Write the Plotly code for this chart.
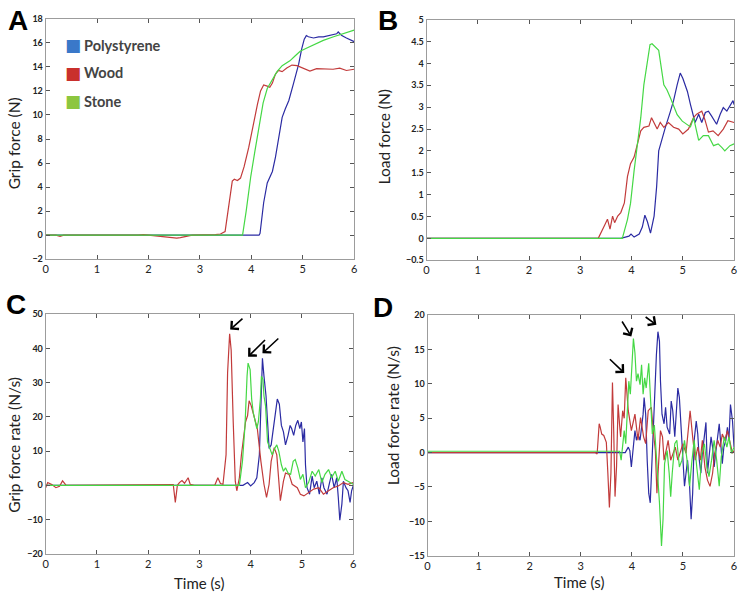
import plotly.graph_objects as go

# ─── DATA ────────────────────────────────────────────────────────────────────
# A — grip force (N)
poly_t_A = [0, 4.15, 4.17, 4.24, 4.31, 4.41, 4.47, 4.53, 4.60, 4.66, 4.73, 4.82, 4.92, 4.98, 5.03,
            5.07, 5.11, 5.21, 5.31, 5.40, 5.53, 5.66, 5.69, 5.76, 5.85, 6.0]
poly_A = [0, 0, 0.15, 2.7, 4.35, 5.3, 6.5, 8.2, 9.8, 10.5, 11.2, 12.6, 14.2, 15.5, 16.3,
          16.6, 16.5, 16.4, 16.5, 16.5, 16.6, 16.75, 16.9, 16.6, 16.4, 16.1]
wood_t_A = [0, 0.2, 0.28, 0.35, 1.8, 1.9, 2.0, 2.55, 2.62, 2.75, 2.85, 3.3, 3.4, 3.49, 3.57,
            3.63, 3.67, 3.73, 3.79, 3.86, 3.95, 4.05, 4.12, 4.18, 4.24, 4.31, 4.36, 4.41, 4.47,
            4.53, 4.60, 4.69, 4.79, 4.89, 5.02, 5.14, 5.27, 5.47, 5.59, 5.72, 5.85, 6.0]
wood_A = [0, 0, -0.1, 0, 0, 0.05, 0, -0.25, -0.2, -0.1, 0, 0.05, 0.1, 0.3, 2.5,
          4.5, 4.65, 4.55, 4.75, 5.7, 7.3, 9.5, 10.9, 12.0, 12.5, 12.4, 12.3, 12.65, 13.4,
          13.7, 13.6, 13.9, 14.15, 14.1, 13.9, 13.65, 13.85, 13.85, 13.8, 13.9, 13.7, 13.8]
stone_t_A = [0, 3.83, 3.9, 3.99, 4.07, 4.15, 4.23, 4.31, 4.4, 4.5, 4.6, 4.75, 4.85, 4.95, 5.05,
             5.2, 5.4, 5.6, 5.75, 5.9, 6.0]
stone_A = [0, 0, 2.0, 4.9, 7.0, 9.0, 11.0, 12.2, 12.9, 13.6, 14.1, 14.5, 14.9, 15.3, 15.5,
           15.8, 16.2, 16.5, 16.7, 16.95, 17.05]

# B — load force (N)
poly_t_B = [0, 3.79, 3.95, 3.99, 4.05, 4.15, 4.21, 4.26, 4.31, 4.37, 4.44, 4.49, 4.53, 4.60, 4.66,
            4.76, 4.82, 4.89, 4.95, 5.0, 5.05, 5.09, 5.15, 5.21, 5.24, 5.31, 5.37, 5.44, 5.50,
            5.56, 5.66, 5.73, 5.79, 5.86, 5.92, 5.98, 6.0]
poly_B = [0, 0, 0.05, 0.1, 0.03, 0.1, 0.26, 0.53, 0.38, 0.12, 0.51, 1.19, 2.0, 2.31, 2.54,
          2.91, 3.15, 3.51, 3.78, 3.66, 3.47, 3.36, 3.06, 2.76, 2.65, 2.84, 2.65, 2.88, 2.91,
          2.8, 2.61, 2.84, 2.99, 2.91, 3.02, 3.15, 3.06]
wood_t_B = [0, 3.35, 3.47, 3.53, 3.58, 3.63, 3.67, 3.73, 3.79, 3.86, 3.92, 3.98, 4.05, 4.11, 4.18,
            4.24, 4.34, 4.39, 4.43, 4.50, 4.56, 4.63, 4.72, 4.82, 4.92, 5.0, 5.11, 5.21, 5.27,
            5.37, 5.43, 5.50, 5.59, 5.69, 5.79, 5.88, 6.0]
wood_B = [0, 0, 0.29, 0.44, 0.21, 0.51, 0.36, 0.51, 0.59, 0.81, 1.41, 1.71, 1.86, 2.16, 2.46,
          2.54, 2.57, 2.76, 2.65, 2.5, 2.65, 2.54, 2.65, 2.54, 2.5, 2.39, 2.5, 2.76, 2.84,
          2.91, 2.72, 2.43, 2.46, 2.35, 2.5, 2.69, 2.65]
stone_t_B = [0, 3.82, 3.92, 3.98, 4.05, 4.11, 4.18, 4.24, 4.31, 4.36, 4.40, 4.53, 4.63, 4.69, 4.76,
             4.81, 4.89, 4.99, 5.08, 5.15, 5.21, 5.31, 5.40, 5.50, 5.60, 5.69, 5.76, 5.82, 5.92, 6.0]
stone_B = [0, 0, 0.43, 0.8, 1.55, 2.08, 2.76, 3.51, 4.11, 4.43, 4.45, 4.3, 3.51, 3.40, 3.21,
           3.06, 2.83, 2.68, 2.61, 2.55, 2.76, 2.24, 2.35, 2.35, 2.12, 2.16, 2.08, 2.0, 2.12, 2.16]

# C — grip force rate (N/s)
poly_t_C = [0, 3.85, 3.94, 4.0, 4.07, 4.12, 4.17, 4.20, 4.23, 4.26, 4.30, 4.33, 4.36, 4.40, 4.44,
            4.49, 4.52, 4.56, 4.60, 4.64, 4.68, 4.73, 4.77, 4.80, 4.84, 4.88, 4.92, 4.96, 4.99,
            5.02, 5.05, 5.07, 5.10, 5.15, 5.20, 5.24, 5.29, 5.34, 5.39, 5.43, 5.49, 5.54, 5.58,
            5.63, 5.68, 5.71, 5.74, 5.78, 5.81, 5.86, 5.90, 5.94, 5.97, 6.0]
poly_C = [0, 0, 0.8, -0.2, 0.8, 2.2, 8.9, 20.4, 37.1, 31.9, 26.1, 18.5, 10.8, 11.8, 16.6,
          23.3, 25.2, 23.7, 17.5, 15.6, 11.8, 14.6, 17.5, 16.6, 14.6, 17.5, 19.0, 16.6, 18.5,
          12.7, 16.6, 6.0, -0.7, -2.6, 2.7, -0.7, 1.2, -2.6, 2.2, -0.7, -2.6, 0.8, 3.2,
          -0.7, 2.2, -3.5, -10.2, -5.5, 1.2, -0.7, -1.6, -5.0, -1.6, -0.2]
wood_t_C = [0, 0.04, 0.12, 0.2, 0.27, 0.33, 0.4, 2.45, 2.49, 2.53, 2.57, 2.61, 2.66, 2.71, 2.78,
            2.82, 2.9, 3.3, 3.36, 3.41, 3.46, 3.52, 3.55, 3.59, 3.62, 3.66, 3.70, 3.73, 3.78,
            3.82, 3.86, 3.90, 3.94, 3.97, 4.01, 4.05, 4.09, 4.13, 4.20, 4.26, 4.31, 4.36, 4.40,
            4.46, 4.51, 4.55, 4.58, 4.64, 4.68, 4.75, 4.81, 4.91, 4.97, 5.04, 5.13, 5.23, 5.33,
            5.42, 5.52, 5.61, 5.71, 5.81, 5.90, 6.0]
wood_C = [-0.7, 0.8, 0.2, -0.7, -0.3, 1.3, 0, 0, 0.2, -5.0, 0, 0.8, 1.4, 0.6, 2.2,
          0.3, 0, 0, 2.2, 0.5, 0.3, 8.9, 32.8, 44.3, 39.5, 18.5, 1.2, -1.6, 2.2,
          8.9, 14.6, 18.5, 20.4, 24.7, 23.3, 21.3, 19.0, 16.6, 7.0, 0.3, -3.5, 0.3, 7.0,
          11.0, 8.9, 0.3, -4.5, 1.2, 3.6, 3.2, 0.3, -0.7, -2.6, -3.1, -2.1, -1.1, -0.7,
          -2.6, -1.6, -0.7, -0.2, 0.8, 0.3, 0.8]
stone_t_C = [0, 3.78, 3.84, 3.89, 3.93, 3.95, 3.99, 4.02, 4.05, 4.08, 4.12, 4.15, 4.19, 4.21, 4.24,
             4.26, 4.29, 4.33, 4.38, 4.42, 4.47, 4.51, 4.55, 4.60, 4.64, 4.68, 4.73, 4.78, 4.83,
             4.87, 4.92, 4.97, 5.02, 5.07, 5.13, 5.20, 5.26, 5.33, 5.39, 5.45, 5.52, 5.58, 5.65,
             5.71, 5.78, 5.84, 5.90, 6.0]
stone_C = [0, 0, 7.0, 17.5, 31.9, 35.7, 33.8, 25.2, 21.3, 19.0, 16.6, 18.5, 25.2, 31.9, 30.9,
           26.1, 23.3, 12.7, 10.8, 8.9, 10.8, 11.8, 9.9, 6.0, 4.1, 5.1, 3.6, 3.2, 7.0,
           7.5, 5.1, 1.7, 3.2, -0.7, 0.8, 4.1, 2.7, 4.6, 0.8, 3.2, 4.6, 2.2, 4.1,
           1.2, 4.1, 1.7, 1.2, 0.3]

# D — load force rate (N/s)
poly_t_D = [0, 3.87, 3.93, 3.96, 3.99, 4.03, 4.06, 4.09, 4.12, 4.16, 4.19, 4.22, 4.24, 4.27, 4.30,
            4.33, 4.36, 4.38, 4.42, 4.45, 4.48, 4.51, 4.54, 4.56, 4.59, 4.63, 4.66, 4.69, 4.74,
            4.77, 4.80, 4.84, 4.87, 4.90, 4.93, 4.96, 5.0, 5.03, 5.06, 5.09, 5.13, 5.16, 5.19,
            5.22, 5.26, 5.29, 5.32, 5.35, 5.38, 5.42, 5.45, 5.48, 5.51, 5.55, 5.58, 5.61, 5.64,
            5.68, 5.71, 5.74, 5.77, 5.80, 5.84, 5.87, 5.90, 5.93, 5.97, 6.0]
poly_D = [0, 0, 0.8, 0.3, -2.1, 1.3, 3.2, 1.8, 2.7, 1.8, 3.7, 5.6, 8.0, 5.6, -1.1,
          -5.9, -7.3, -3.5, 3.7, 8.0, 14.2, 17.6, 16.2, 10.4, 5.6, 4.2, 6.6, 3.7, 2.7,
          7.5, 6.1, 2.3, 6.1, 9.4, 8.0, 4.2, -1.1, -4.9, -3.0, -1.1, -4.9, -9.7, -5.9,
          1.8, 4.6, 2.7, -1.1, -3.0, -0.1, 2.3, 4.4, -3.0, -1.1, 2.3, 0.8, -2.1, -0.1,
          2.3, 4.2, 1.3, -1.6, 0.8, 1.8, 3.7, 1.8, 7.0, 4.6, 0.8]
wood_t_D = [0, 3.28, 3.32, 3.36, 3.38, 3.41, 3.45, 3.50, 3.53, 3.56, 3.59, 3.62, 3.645, 3.67, 3.70,
            3.73, 3.76, 3.78, 3.82, 3.85, 3.88, 3.91, 3.93, 3.99, 4.06, 4.12, 4.17, 4.23, 4.27,
            4.32, 4.38, 4.42, 4.46, 4.49, 4.53, 4.56, 4.60, 4.63, 4.67, 4.71, 4.76, 4.80, 4.85,
            4.90, 4.94, 5.0, 5.06, 5.11, 5.14, 5.19, 5.24, 5.29, 5.34, 5.38, 5.43, 5.48, 5.53,
            5.58, 5.62, 5.68, 5.73, 5.77, 5.82, 5.87, 5.92, 5.97, 6.0]
wood_D = [0, 0, -0.2, 4.2, 3.7, 2.7, 2.5, 1.5, -3.0, -8.0, -3.0, 10.2, 3.0, -6.4, -2.0,
          7.0, 4.0, 2.3, 6.1, 5.0, 10.9, 8.5, 6.1, 3.2, 5.6, 1.8, 5.1, 2.3, 1.3,
          6.1, 6.6, 3.0, 0.3, -5.9, 0.0, 3.2, 2.3, -1.1, 0.3, 1.8, -1.1, -0.1, 0.8,
          -1.1, -0.1, 1.3, -0.1, 3.7, 6.1, 2.3, -1.1, 0.8, -1.1, 1.8, -2.1, -4.0, -4.9,
          -3.0, -0.1, 1.8, 0.8, 2.7, 1.8, 3.2, 1.3, -0.1, 0.3]
stone_t_D = [0, 3.76, 3.79, 3.81, 3.85, 3.88, 3.91, 3.94, 3.97, 4.0, 4.03, 4.06, 4.09, 4.12, 4.16,
             4.19, 4.22, 4.25, 4.28, 4.33, 4.36, 4.40, 4.44, 4.48, 4.51, 4.54, 4.58, 4.61, 4.64,
             4.69, 4.73, 4.76, 4.79, 4.84, 4.88, 4.93, 4.98, 5.03, 5.08, 5.13, 5.17, 5.22, 5.27,
             5.32, 5.37, 5.42, 5.47, 5.51, 5.56, 5.61, 5.66, 5.71, 5.75, 5.81, 5.86, 5.90, 5.95, 6.0]
stone_D = [0.2, 0.2, -1.1, 0.8, 3.2, 1.3, 5.6, 10.4, 8.5, 12.0, 16.6, 14.5, 10.4, 11.5, 9.9,
           12.8, 8.5, 10.9, 9.4, 13.0, 7.5, 2.7, 4.0, -0.5, -3.0, -7.3, -13.6, -9.7, -1.6,
           0.3, -3.0, -6.4, -3.0, 1.3, 1.8, -2.1, -1.1, 1.8, -1.1, -4.9, -1.6, 1.8, -2.1,
           -5.4, -0.1, 1.3, -2.1, -3.5, -1.1, 1.8, -1.1, -4.9, -0.6, 2.3, 0.8, 2.3, -0.1, 0.8]

# arrows marking the peaks: (head_t, head_v, tail_t, tail_v)
arrows_C = [(3.60, 45.5, 3.87, 49.1), (3.95, 37.6, 4.31, 42.9), (4.23, 38.6, 4.57, 43.3)]
arrows_D = [(3.85, 11.6, 3.54, 13.8), (3.99, 16.9, 3.79, 19.3), (4.48, 18.6, 4.24, 19.9)]

materials = ["Polystyrene", "Wood", "Stone"]
LINE = {"Polystyrene": "#2B2BA3", "Wood": "#C23B3B", "Stone": "#45D845"}
SWATCH = {"Polystyrene": "#3A78C9", "Wood": "#C9302C", "Stone": "#8CC63F"}

panels = [
    ("A", "x", "y", [(poly_t_A, poly_A), (wood_t_A, wood_A), (stone_t_A, stone_A)]),
    ("B", "x2", "y2", [(poly_t_B, poly_B), (wood_t_B, wood_B), (stone_t_B, stone_B)]),
    ("C", "x3", "y3", [(poly_t_C, poly_C), (wood_t_C, wood_C), (stone_t_C, stone_C)]),
    ("D", "x4", "y4", [(poly_t_D, poly_D), (wood_t_D, wood_D), (stone_t_D, stone_D)]),
]

# ─── FIGURE ──────────────────────────────────────────────────────────────────
W, H = 742, 598
FONT = "Lato, Open Sans, sans-serif"

fig = go.Figure()
for letter, xa, ya, series in panels:
    for name, (t, v) in zip(materials, series):
        fig.add_trace(go.Scatter(
            x=t, y=v, mode="lines", name=name, xaxis=xa, yaxis=ya,
            line=dict(color=LINE[name], width=1.2), showlegend=False,
        ))


def px_x(p):
    return p / W


def px_y(p):
    return 1 - p / H


_AXIS = dict(
    showline=True, linecolor="#9C9C9C", linewidth=1, mirror="ticks",
    ticks="inside", ticklen=4, tickcolor="#555555", tickwidth=1,
    showgrid=False, zeroline=False,
)
_XAX = dict(**_AXIS, range=[0, 6], dtick=1,
            tickfont=dict(family=FONT, size=11, color="#222222"))


def _yax(rng, dt):
    return dict(**_AXIS, range=rng, dtick=dt,
                tickfont=dict(family=FONT, size=9, color="#222222", weight="bold"))


# pixel boxes of the four plot areas on the page (left, right, top, bottom)
boxes = {"A": (43, 354, 13, 258), "B": (427, 737, 14, 259),
         "C": (43, 353, 314, 558), "D": (428, 737, 315, 560)}

layout = dict(
    width=W, height=H, margin=dict(l=0, r=0, t=0, b=0),
    paper_bgcolor="white", plot_bgcolor="white", showlegend=False,
)
yspec = {"A": ([-2, 18], 2), "B": ([-0.5, 5], 0.5), "C": ([-20, 50], 10), "D": ([-15, 20], 5)}
for i, (letter, xa, ya, _) in enumerate(panels):
    l, r, t, b = boxes[letter]
    sfx = "" if i == 0 else str(i + 1)
    layout["xaxis" + sfx] = dict(**_XAX, domain=[px_x(l), px_x(r)], anchor=ya)
    rng, dt = yspec[letter]
    layout["yaxis" + sfx] = dict(**_yax(rng, dt), domain=[px_y(b), px_y(t)], anchor=xa)
fig.update_layout(**layout)

# panel letters
for letter, (cx, cy) in {"A": (15, 15), "B": (388, 15), "C": (13, 304), "D": (383, 307)}.items():
    fig.add_annotation(text=f"<b>{letter}</b>", xref="paper", yref="paper", x=px_x(cx), y=px_y(cy),
                       showarrow=False, xanchor="center", yanchor="middle",
                       font=dict(family="Liberation Sans, Arial", size=28, color="black"))

# axis titles
ytitles = [("Grip force (N)", 12, 140), ("Load force (N)", 384, 133),
           ("Grip force rate (N/s)", 11, 447), ("Load force rate (N/s)", 394, 417)]
for txt, cx, cy in ytitles:
    fig.add_annotation(text=txt, xref="paper", yref="paper", x=px_x(cx), y=px_y(cy),
                       textangle=-90, showarrow=False, xanchor="center", yanchor="middle",
                       font=dict(family=FONT, size=15.5, color="#222222"))
for cx, cy in [(198, 588), (581, 587)]:
    fig.add_annotation(text="Time (s)", xref="paper", yref="paper", x=px_x(cx), y=px_y(cy),
                       showarrow=False, xanchor="center", yanchor="middle",
                       font=dict(family=FONT, size=15, color="#222222"))

# legend inside panel A
for k, name in enumerate(materials):
    cy = [40, 68, 97][k]
    fig.add_annotation(text="■", xref="paper", yref="paper", x=px_x(71), y=px_y(cy),
                       showarrow=False, xanchor="center", yanchor="middle",
                       font=dict(family="DejaVu Sans", size=17, color=SWATCH[name]))
    fig.add_annotation(text=f"<b>{name}</b>", xref="paper", yref="paper", x=px_x(80), y=px_y(cy),
                       showarrow=False, xanchor="left", yanchor="middle",
                       font=dict(family=FONT, size=14.5, color="#444444"))

# arrows
for xa, ya, arr in [("x3", "y3", arrows_C), ("x4", "y4", arrows_D)]:
    for hx, hy, tx, ty in arr:
        fig.add_annotation(x=hx, y=hy, ax=tx, ay=ty, xref=xa, yref=ya, axref=xa, ayref=ya,
                           text="", showarrow=True, arrowhead=4, arrowsize=1.3,
                           arrowwidth=1.6, arrowcolor="black")

# drop the browser's default body margin so the figure sits at the page corner
fig.write_html("out.html", config={"displayModeBar": False},
               post_script="document.body.style.margin='0';")
